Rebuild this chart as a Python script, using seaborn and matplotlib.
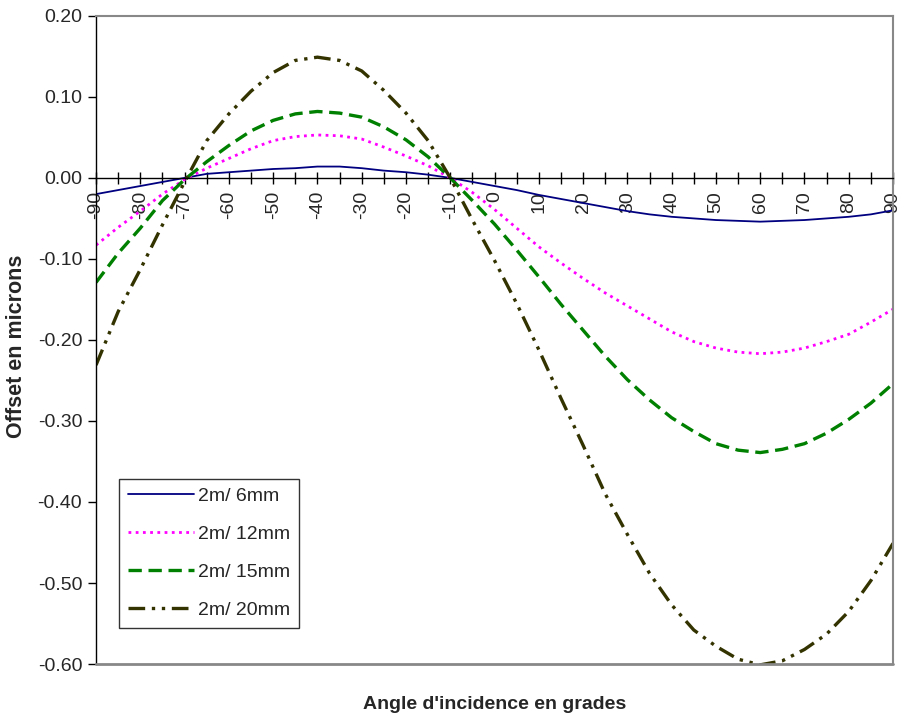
import pandas as pd
import seaborn as sns
import matplotlib.pyplot as plt
from matplotlib.ticker import MultipleLocator, FormatStrFormatter

# Angle d'incidence (grades), one point every 5 grades
angles = list(range(-90, 95, 5))

# Offset en microns
offset_6mm = [-0.020, -0.015, -0.010, -0.005, 0.000, 0.005, 0.007, 0.009, 0.011,
              0.012, 0.014, 0.014, 0.012, 0.009, 0.007, 0.004, 0.000, -0.005,
              -0.010, -0.015, -0.021, -0.026, -0.031, -0.036, -0.041, -0.045,
              -0.048, -0.050, -0.052, -0.053, -0.054, -0.053, -0.052, -0.050,
              -0.048, -0.045, -0.040]
offset_12mm = [-0.083, -0.061, -0.041, -0.020, -0.002, 0.012, 0.024, 0.036, 0.046,
               0.051, 0.053, 0.052, 0.048, 0.038, 0.027, 0.015, 0.000, -0.018,
               -0.039, -0.062, -0.085, -0.105, -0.124, -0.142, -0.158, -0.174,
               -0.190, -0.202, -0.210, -0.215, -0.217, -0.215, -0.210, -0.202,
               -0.193, -0.178, -0.162]
offset_15mm = [-0.129, -0.093, -0.062, -0.028, -0.002, 0.020, 0.040, 0.058, 0.071,
               0.079, 0.082, 0.080, 0.075, 0.063, 0.047, 0.026, 0.000, -0.028,
               -0.057, -0.089, -0.122, -0.156, -0.188, -0.220, -0.249, -0.274,
               -0.296, -0.313, -0.328, -0.336, -0.339, -0.335, -0.328, -0.315,
               -0.298, -0.278, -0.254]
offset_20mm = [-0.231, -0.165, -0.113, -0.058, -0.005, 0.046, 0.079, 0.107, 0.130,
               0.145, 0.149, 0.145, 0.132, 0.108, 0.080, 0.046, 0.000, -0.052,
               -0.102, -0.155, -0.212, -0.272, -0.330, -0.390, -0.440, -0.488,
               -0.527, -0.558, -0.578, -0.594, -0.601, -0.596, -0.582, -0.563,
               -0.535, -0.497, -0.451]

series_names = ["2m/ 6mm", "2m/ 12mm", "2m/ 15mm", "2m/ 20mm"]
series_values = [offset_6mm, offset_12mm, offset_15mm, offset_20mm]

sns.set_theme(style="white")
plt.rcParams["font.family"] = ["Liberation Sans", "DejaVu Sans"]
plt.rcParams["axes.unicode_minus"] = False

fig = plt.figure(figsize=(9.06, 7.21), dpi=100)
ax = fig.add_axes([0.106, 0.079, 0.8797, 0.899])

# line styles like the Excel original
styles = {
    "2m/ 6mm": dict(color="#000080", lw=1.3, ls="-"),
    "2m/ 12mm": dict(color="#FF00FF", lw=2.0, ls=(0, (1, 1.6))),
    "2m/ 15mm": dict(color="#008000", lw=2.4, ls=(0, (4, 2))),
    "2m/ 20mm": dict(color="#333300", lw=2.4, ls=(0, (5, 2, 1, 2, 1, 2))),
}

for name, vals in zip(series_names, series_values):
    df = pd.DataFrame({"angle": angles, "offset": vals})
    st = styles[name]
    sns.lineplot(data=df, x="angle", y="offset", ax=ax, label=name,
                 color=st["color"], linewidth=st["lw"], linestyle=st["ls"])

ax.set_xlim(-90, 90)
ax.set_ylim(-0.6, 0.2)

# y axis
ax.yaxis.set_major_locator(MultipleLocator(0.1))
ax.yaxis.set_major_formatter(FormatStrFormatter("%.2f"))
ax.tick_params(axis="y", direction="out", length=6, width=1, color="black",
               labelsize=14, pad=4, left=True)

# x axis crosses at zero
ax.spines["bottom"].set_position(("data", 0))
ax.spines["bottom"].set_color("black")
ax.spines["bottom"].set_linewidth(1)
ax.spines["left"].set_color("black")
ax.spines["left"].set_linewidth(1)
for s in ["top", "right"]:
    ax.spines[s].set_color("#888888")
    ax.spines[s].set_linewidth(1.5)
ax.axhline(-0.6, color="#888888", lw=2, clip_on=False, zorder=3)

ax.xaxis.set_major_locator(MultipleLocator(10))
ax.xaxis.set_minor_locator(MultipleLocator(5))
ax.tick_params(axis="x", which="both", direction="inout", length=9, width=1,
               color="black", bottom=True)
ax.tick_params(axis="x", which="major", labelsize=14, labelrotation=90, pad=5)

ax.set_xlabel("Angle d'incidence en grades", fontsize=14, fontweight="bold")
ax.set_ylabel("Offset en microns", fontsize=15.5, fontweight="bold")
ax.xaxis.set_label_coords(0.5, -0.049)
ax.yaxis.set_label_coords(-0.086, 0.49)

leg = ax.legend(loc="lower left", bbox_to_anchor=(0.029, 0.056), borderaxespad=0,
                fontsize=14, frameon=True, fancybox=False, edgecolor="black",
                handlelength=3.4, labelspacing=1.05, borderpad=0.45,
                handletextpad=0.2)
leg.get_frame().set_linewidth(1)

plt.savefig("out.png", dpi=100)
